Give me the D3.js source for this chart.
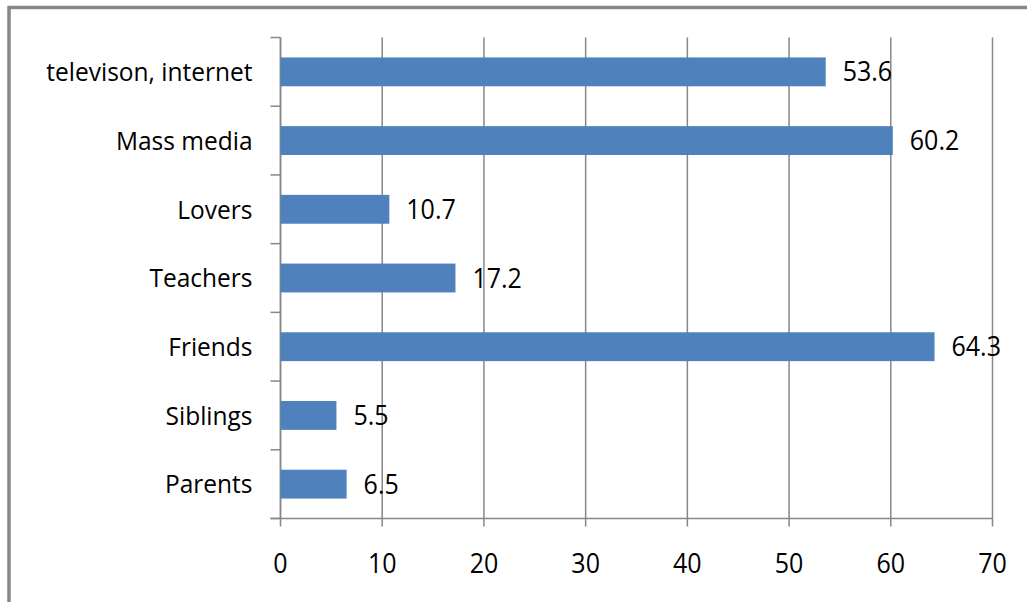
<!DOCTYPE html>
<html>
<head>
<meta charset="utf-8">
<script src="https://cdn.jsdelivr.net/npm/d3@7"></script>
<style>
  body { margin: 0; background: #fff; }
  svg { display: block; }
  text { font-family: "Open Sans", "DejaVu Sans", sans-serif; fill: #000; }
</style>
</head>
<body>
<svg id="chart"></svg>
<script>
var width = 1027, height = 602

var categories = ["televison, internet", "Mass media", "Lovers", "Teachers", "Friends", "Siblings", "Parents"]
var values = [53.6, 60.2, 10.7, 17.2, 64.3, 5.5, 6.5]
var ticks = [0, 10, 20, 30, 40, 50, 60, 70]

var svg = d3.select("#chart")
    .attr("width", width)
    .attr("height", height)

// outer frame (only top and left edges are inside the picture)
svg.append("rect")
    .attr("x", 9)
    .attr("y", 7.5)
    .attr("width", 1100)
    .attr("height", 700)
    .attr("fill", "none")
    .attr("stroke", "#878787")
    .attr("stroke-width", 3.5)

var plotLeft = 280.5, plotRight = 992.5, plotTop = 37.5, plotBottom = 518.5

var x = d3.scaleLinear()
    .domain([0, 70])
    .range([plotLeft, plotRight])

var y = d3.scaleBand()
    .domain(categories)
    .range([plotTop, plotBottom])
    .paddingInner(0.58)
    .paddingOuter(0.29)

var band = (plotBottom - plotTop) / categories.length

// vertical gridlines
svg.append("g")
    .selectAll("line")
    .data(ticks)
    .enter()
    .append("line")
    .attr("x1", d => x(d))
    .attr("x2", d => x(d))
    .attr("y1", plotTop)
    .attr("y2", plotBottom + 8)
    .attr("stroke", "#878787")
    .attr("stroke-width", 1.5)

// category axis line and ticks
svg.append("line")
    .attr("x1", plotLeft).attr("x2", plotLeft)
    .attr("y1", plotTop).attr("y2", plotBottom)
    .attr("stroke", "#878787")
    .attr("stroke-width", 1.5)

svg.append("g")
    .selectAll("line")
    .data(d3.range(categories.length + 1))
    .enter()
    .append("line")
    .attr("x1", plotLeft - 10)
    .attr("x2", plotLeft)
    .attr("y1", i => plotTop + i * band)
    .attr("y2", i => plotTop + i * band)
    .attr("stroke", "#878787")
    .attr("stroke-width", 1.5)

// value axis line
svg.append("line")
    .attr("x1", plotLeft - 10).attr("x2", plotRight)
    .attr("y1", plotBottom).attr("y2", plotBottom)
    .attr("stroke", "#878787")
    .attr("stroke-width", 1.5)

// bars
svg.append("g")
    .selectAll("rect")
    .data(values)
    .enter()
    .append("rect")
    .attr("x", plotLeft)
    .attr("y", (d, i) => y(categories[i]))
    .attr("width", d => x(d) - plotLeft)
    .attr("height", y.bandwidth())
    .attr("fill", "#4F81BD")

function stretched(sel, px, py) {
    return sel.attr("transform", "translate(" + px + "," + py + ") scale(1,1.06)")
}

// value labels
svg.append("g")
    .selectAll("text")
    .data(values)
    .enter()
    .append("text")
    .each(function (d, i) {
        stretched(d3.select(this), x(d) + 17, y(categories[i]) + y.bandwidth() / 2)
    })
    .attr("dy", "0.36em")
    .attr("font-size", 25)
    .text(d => d.toFixed(1))

// category labels
svg.append("g")
    .selectAll("text")
    .data(categories)
    .enter()
    .append("text")
    .each(function (d) {
        stretched(d3.select(this), plotLeft - 28, y(d) + y.bandwidth() / 2)
    })
    .attr("text-anchor", "end")
    .attr("dy", "0.36em")
    .attr("font-size", 24.5)
    .text(d => d)

// tick labels
svg.append("g")
    .selectAll("text")
    .data(ticks)
    .enter()
    .append("text")
    .each(function (d) {
        stretched(d3.select(this), x(d), 563)
    })
    .attr("text-anchor", "middle")
    .attr("dy", "0.36em")
    .attr("font-size", 25)
    .text(d => d)
</script>
</body>
</html>
